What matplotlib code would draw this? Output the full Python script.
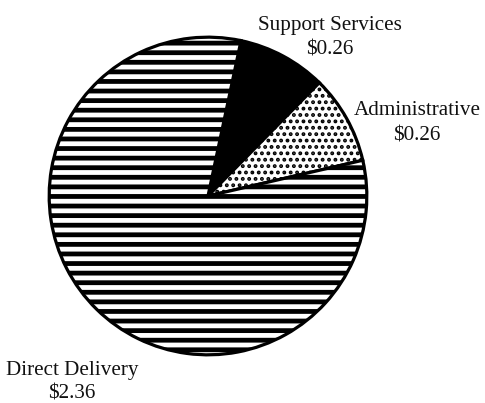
import matplotlib
matplotlib.use("Agg")
import matplotlib.pyplot as plt

# cost breakdown (dollars)
categories = ["Support Services", "Administrative", "Direct Delivery"]
amounts = [0.26, 0.26, 2.36]
hatches = [None, "...", "--"]
fills = ["black", "white", "white"]

plt.rcParams['font.family'] = ['Liberation Serif', 'DejaVu Serif']
plt.rcParams['hatch.linewidth'] = 3.0

DPI = 115
W, H = 486, 403
fig = plt.figure(figsize=(W / DPI, H / DPI), dpi=DPI)

# pie centre / radius in pixels
cx, cy, r = 208, 196, 162
ax = fig.add_axes([(cx - r) / W, (H - cy - r) / H, 2 * r / W, 2 * r / H])

wedges, _ = ax.pie(amounts, startangle=78, counterclock=False,
                   colors=fills, radius=1.0,
                   wedgeprops=dict(edgecolor="black", linewidth=2.0))
for w, h in zip(wedges, hatches):
    if h:
        w.set_hatch(h)
        if h == "..." and hasattr(w, "set_hatch_linewidth"):
            w.set_hatch_linewidth(1.6)
ax.set_xlim(-1.02, 1.02)
ax.set_ylim(-1.02, 1.02)
ax.axis("off")

# label anchor points (pixels): centre x, baseline of first line
label_pos = [(330, 30), (417, 115), (72, 375)]
line_gap = [25, 25, 23]

def fx(px):
    return px / W

def fy(py):
    return 1 - py / H

for name, val, (px, py), gap in zip(categories, amounts, label_pos, line_gap):
    fig.text(fx(px), fy(py), name, ha="center", va="baseline",
             fontsize=13.2, color="#111111")
    fig.text(fx(px), fy(py + gap), "\\$%.2f" % val, ha="center",
             va="baseline", fontsize=13.2, color="#111111")

fig.savefig("out.png", dpi=DPI)
